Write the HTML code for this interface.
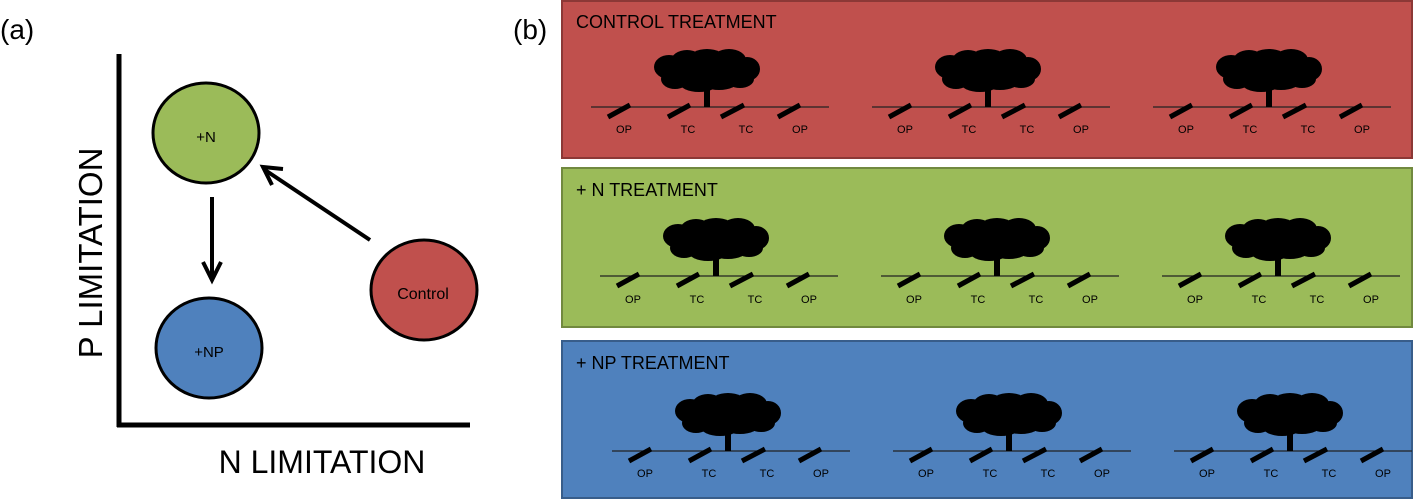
<!DOCTYPE html>
<html><head><style>body{margin:0;background:#fff}svg{display:block}</style></head><body>
<svg width="1417" height="501" xmlns="http://www.w3.org/2000/svg" font-family="Liberation Sans, sans-serif">
<defs>
<g id="u">
<line x1="-116" y1="0" x2="122" y2="0" stroke="#222" stroke-width="1.2"/>
<rect x="-3" y="-24" width="6" height="24" fill="#000"/>
<g fill="#000">
<ellipse cx="-38" cy="-40" rx="15" ry="12"/><ellipse cx="-32" cy="-28" rx="14" ry="10"/>
<ellipse cx="-20" cy="-46" rx="16" ry="11"/><ellipse cx="0" cy="-48" rx="18" ry="10"/>
<ellipse cx="22" cy="-47" rx="17" ry="11"/><ellipse cx="40" cy="-38" rx="13" ry="12"/>
<ellipse cx="33" cy="-28" rx="14" ry="9"/><ellipse cx="-8" cy="-25" rx="20" ry="10"/>
<ellipse cx="12" cy="-27" rx="20" ry="10"/><ellipse cx="0" cy="-37" rx="42" ry="13"/>
</g>
<g stroke="#000" stroke-width="5">
<line x1="-99" y1="10" x2="-77" y2="-2"/><line x1="-39" y1="10" x2="-17" y2="-2"/>
<line x1="14" y1="10" x2="37" y2="-2"/><line x1="71" y1="10" x2="93" y2="-2"/>
</g>
</g>
</defs>
<text x="0" y="39" font-size="28">(a)</text>
<text x="513" y="39" font-size="28">(b)</text>
<line x1="119" y1="54" x2="119" y2="427" stroke="#000" stroke-width="5"/>
<line x1="117" y1="425" x2="470" y2="425" stroke="#000" stroke-width="5"/>
<text transform="translate(102,253) rotate(-90)" text-anchor="middle" font-size="33">P LIMITATION</text>
<text x="322" y="473" text-anchor="middle" font-size="32">N LIMITATION</text>
<ellipse cx="206" cy="133" rx="53" ry="50" fill="#9bbb59" stroke="#000" stroke-width="3"/>
<text x="206" y="142" text-anchor="middle" font-size="15">+N</text>
<ellipse cx="209" cy="348" rx="53" ry="50" fill="#4f81bd" stroke="#000" stroke-width="3"/>
<text x="209" y="357" text-anchor="middle" font-size="15">+NP</text>
<ellipse cx="424" cy="290" rx="53" ry="50" fill="#c0504d" stroke="#000" stroke-width="3"/>
<text x="423" y="299" text-anchor="middle" font-size="16">Control</text>
<g stroke="#000" stroke-width="4" fill="none">
<line x1="212" y1="197" x2="212" y2="280"/><polyline points="203,262 212,280 221,262"/>
<line x1="370" y1="240" x2="265" y2="170"/><polyline points="283,169 263,167 272,185"/>
</g>
<rect x="562" y="1" width="850" height="157" fill="#c0504d" stroke="#8c3836" stroke-width="2"/>
<rect x="562" y="168" width="850" height="159" fill="#9bbb59" stroke="#71893f" stroke-width="2"/>
<rect x="562" y="341" width="850" height="157" fill="#4f81bd" stroke="#385d8a" stroke-width="2"/>
<g font-size="18"><text x="576" y="28">CONTROL TREATMENT</text><text x="576" y="196">+ N TREATMENT</text><text x="576" y="369">+ NP TREATMENT</text></g>
<use href="#u" x="707" y="107"/><use href="#u" x="988" y="107"/><use href="#u" x="1269" y="107"/>
<use href="#u" x="716" y="276"/><use href="#u" x="997" y="276"/><use href="#u" x="1278" y="276"/>
<use href="#u" x="728" y="451"/><use href="#u" x="1009" y="451"/><use href="#u" x="1290" y="451"/>
<g font-size="11" text-anchor="middle">
<text x="624" y="133">OP</text><text x="688" y="133">TC</text><text x="746" y="133">TC</text><text x="800" y="133">OP</text>
<text x="905" y="133">OP</text><text x="969" y="133">TC</text><text x="1027" y="133">TC</text><text x="1081" y="133">OP</text>
<text x="1186" y="133">OP</text><text x="1250" y="133">TC</text><text x="1308" y="133">TC</text><text x="1362" y="133">OP</text>
<text x="633" y="303">OP</text><text x="697" y="303">TC</text><text x="755" y="303">TC</text><text x="809" y="303">OP</text>
<text x="914" y="303">OP</text><text x="978" y="303">TC</text><text x="1036" y="303">TC</text><text x="1090" y="303">OP</text>
<text x="1195" y="303">OP</text><text x="1259" y="303">TC</text><text x="1317" y="303">TC</text><text x="1371" y="303">OP</text>
<text x="645" y="477">OP</text><text x="709" y="477">TC</text><text x="767" y="477">TC</text><text x="821" y="477">OP</text>
<text x="926" y="477">OP</text><text x="990" y="477">TC</text><text x="1048" y="477">TC</text><text x="1102" y="477">OP</text>
<text x="1207" y="477">OP</text><text x="1271" y="477">TC</text><text x="1329" y="477">TC</text><text x="1383" y="477">OP</text>
</g>
</svg>
</body></html>
